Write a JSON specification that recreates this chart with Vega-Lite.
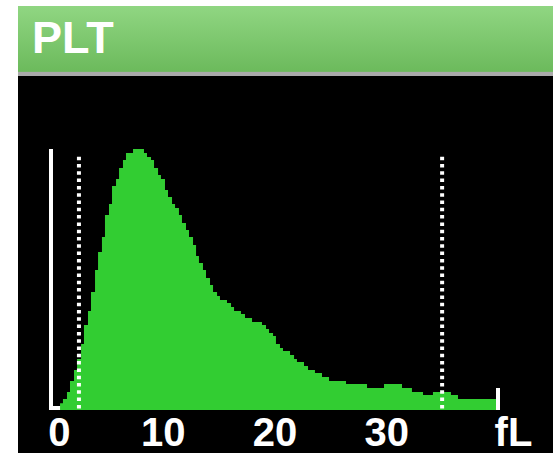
{
  "$schema": "https://vega.github.io/schema/vega-lite/v6.json",
  "background": "white",
  "padding": {"left": 18, "top": 6, "right": 0, "bottom": 0},
  "spacing": 0,
  "config": {"view": {"stroke": null}, "concat": {"spacing": 0}},
  "vconcat": [
    {
      "width": 535,
      "height": 70,
      "data": {"values": [{"panel": "PLT"}]},
      "layer": [
        {
          "mark": {
            "type": "rect",
            "color": {
              "gradient": "linear",
              "x1": 0, "y1": 0, "x2": 0, "y2": 1,
              "stops": [
                {"offset": 0, "color": "#90d682"},
                {"offset": 0.935, "color": "#6cba5c"},
                {"offset": 0.94, "color": "#aaaaaa"},
                {"offset": 1, "color": "#aaaaaa"}
              ]
            }
          },
          "encoding": {}
        },
        {
          "mark": {
            "type": "text",
            "align": "left",
            "baseline": "alphabetic",
            "font": "Liberation Sans",
            "fontSize": 45,
            "fontWeight": "bold",
            "color": "#ffffff"
          },
          "encoding": {
            "text": {"field": "panel"},
            "x": {"value": 14},
            "y": {"value": 47.3}
          }
        }
      ]
    },
    {
      "width": 535,
      "height": 377,
      "view": {"fill": "#000000", "stroke": null},
      "layer": [
        {
          "data": {"values": [{"fl": 0, "fl2": 40, "count": 2}]},
          "mark": {"type": "rule", "color": "#ffffff", "strokeWidth": 4, "strokeCap": "butt"},
          "encoding": {
            "x": {
              "field": "fl", "type": "quantitative",
              "scale": {"domain": [-2.953, 44.922], "nice": false, "zero": false},
              "axis": {
                "values": [0, 10, 20, 30, 40],
                "labelExpr": "datum.value == 40 ? 'fL' : datum.label",
                "domain": false, "ticks": false, "grid": false, "title": null,
                "offset": -40, "labelPadding": 0.5,
                "labelBaseline": "top", "labelAlign": "center",
                "labelFont": "Liberation Sans", "labelFontSize": 40, "labelFontWeight": "bold",
                "labelColor": "#ffffff",
                "labelOffset": {"condition": [{"test": "datum.value == 0", "value": 8}, {"test": "datum.value == 40", "value": 15}], "value": 0},
                "labelFlush": false, "labelOverlap": false, "labelBound": false
              }
            },
            "x2": {"field": "fl2"},
            "y": {
              "field": "count", "type": "quantitative",
              "scale": {"domain": [-43, 334], "nice": false, "zero": false},
              "axis": null
            }
          }
        },
        {
          "data": {"values": [
            {"fl": 0.81, "count": 6.7}, {"fl": 1.07, "count": 11}, {"fl": 1.43, "count": 18},
            {"fl": 1.70, "count": 29}, {"fl": 2.06, "count": 40}, {"fl": 2.33, "count": 51},
            {"fl": 2.69, "count": 66}, {"fl": 2.95, "count": 85}, {"fl": 3.31, "count": 99},
            {"fl": 3.58, "count": 118}, {"fl": 3.94, "count": 140}, {"fl": 4.21, "count": 158},
            {"fl": 4.56, "count": 173}, {"fl": 4.83, "count": 195}, {"fl": 5.19, "count": 206},
            {"fl": 5.46, "count": 224}, {"fl": 5.82, "count": 231}, {"fl": 6.09, "count": 242},
            {"fl": 6.44, "count": 250}, {"fl": 6.71, "count": 257}, {"fl": 7.34, "count": 261},
            {"fl": 8.32, "count": 257}, {"fl": 8.59, "count": 253}, {"fl": 8.95, "count": 250},
            {"fl": 9.22, "count": 242}, {"fl": 9.58, "count": 235}, {"fl": 9.84, "count": 231},
            {"fl": 10.20, "count": 220}, {"fl": 10.47, "count": 213}, {"fl": 10.83, "count": 206},
            {"fl": 11.10, "count": 202}, {"fl": 11.45, "count": 195}, {"fl": 11.72, "count": 187},
            {"fl": 12.08, "count": 180}, {"fl": 12.35, "count": 173}, {"fl": 12.71, "count": 165},
            {"fl": 12.98, "count": 154}, {"fl": 13.24, "count": 147}, {"fl": 13.60, "count": 140},
            {"fl": 13.87, "count": 132}, {"fl": 14.23, "count": 125}, {"fl": 14.50, "count": 118},
            {"fl": 14.86, "count": 114}, {"fl": 15.12, "count": 110}, {"fl": 15.75, "count": 107},
            {"fl": 16.11, "count": 103}, {"fl": 16.38, "count": 99}, {"fl": 17.00, "count": 96},
            {"fl": 17.36, "count": 92}, {"fl": 17.99, "count": 88}, {"fl": 18.88, "count": 85},
            {"fl": 19.24, "count": 81}, {"fl": 19.51, "count": 77}, {"fl": 19.87, "count": 74},
            {"fl": 20.13, "count": 66}, {"fl": 20.49, "count": 62}, {"fl": 20.76, "count": 59},
            {"fl": 21.39, "count": 55}, {"fl": 21.75, "count": 51}, {"fl": 22.01, "count": 48},
            {"fl": 22.64, "count": 44}, {"fl": 23.00, "count": 40}, {"fl": 23.62, "count": 37},
            {"fl": 24.25, "count": 33}, {"fl": 24.88, "count": 29}, {"fl": 26.40, "count": 26},
            {"fl": 28.28, "count": 22}, {"fl": 29.80, "count": 26}, {"fl": 31.41, "count": 22},
            {"fl": 32.30, "count": 18}, {"fl": 33.29, "count": 15}, {"fl": 34.18, "count": 18},
            {"fl": 35.79, "count": 15}, {"fl": 36.42, "count": 11}, {"fl": 39.82, "count": 11}
          ]},
          "mark": {"type": "area", "interpolate": "step-after", "color": "#32cd32", "opacity": 1},
          "encoding": {
            "x": {"field": "fl", "type": "quantitative"},
            "y": {"field": "count", "type": "quantitative"},
            "y2": {"datum": 0}
          }
        },
        {
          "data": {"values": [
            {"fl": 0, "count": 0, "count2": 261},
            {"fl": 40, "count": 0, "count2": 22}
          ]},
          "mark": {"type": "rule", "color": "#ffffff", "strokeWidth": 4, "strokeCap": "butt"},
          "encoding": {
            "x": {"field": "fl", "type": "quantitative"},
            "y": {"field": "count", "type": "quantitative"},
            "y2": {"field": "count2"}
          }
        },
        {
          "data": {"values": [
            {"fl": 2.5, "count": 253.3, "count2": 0},
            {"fl": 35, "count": 253.3, "count2": 0}
          ]},
          "mark": {"type": "rule", "color": "#ffffff", "strokeWidth": 4, "strokeCap": "butt", "strokeDash": [3.5, 3.8]},
          "encoding": {
            "x": {"field": "fl", "type": "quantitative"},
            "y": {"field": "count", "type": "quantitative"},
            "y2": {"field": "count2"}
          }
        }
      ]
    }
  ]
}
